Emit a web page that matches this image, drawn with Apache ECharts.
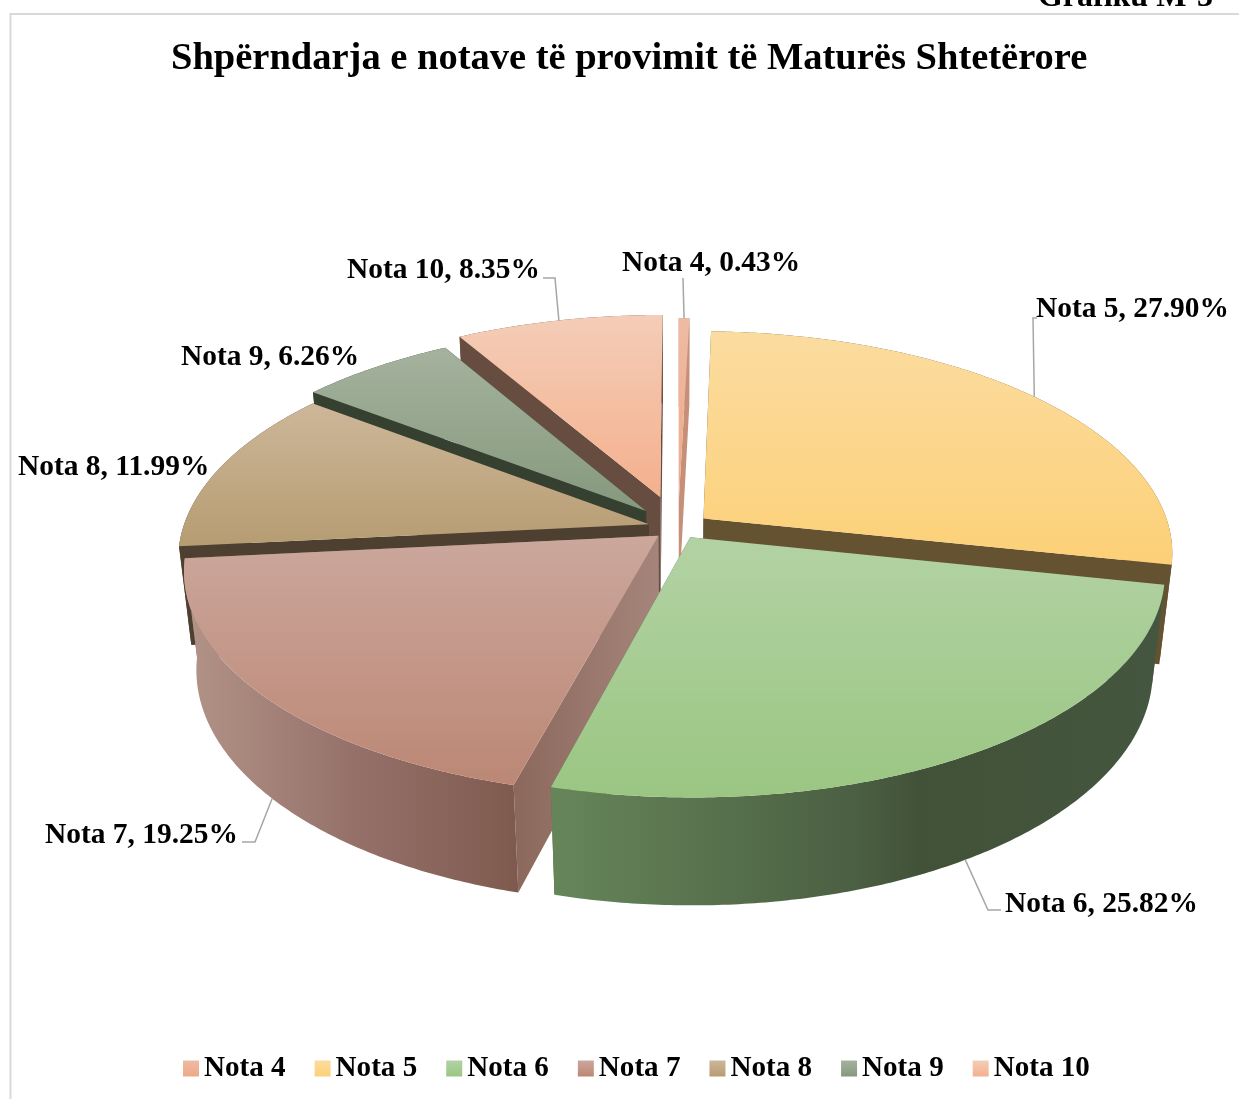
<!DOCTYPE html>
<html>
<head>
<meta charset="utf-8">
<title>Shpërndarja e notave</title>
<style>
  html, body { margin: 0; padding: 0; background: #fff; }
  #chart { width: 1239px; height: 1099px; }
</style>
</head>
<body>
<div id="chart"></div>
<script src="https://cdn.jsdelivr.net/npm/echarts@6/dist/echarts.min.js"></script>
<script>
const categories = ['Nota 4', 'Nota 5', 'Nota 6', 'Nota 7', 'Nota 8', 'Nota 9', 'Nota 10']
const shares = [0.43, 27.90, 25.82, 19.25, 11.99, 6.26, 8.35]

// styling per slice
const explode = [0.125, 0.07, 0.05, 0.055, 0.065, 0.105, 0.15]
const topColors = [
  ['#eebba3', '#eea888'], ['#fbdca0', '#fcd077'], ['#b3d2a4', '#9ac682'], ['#cba79c', '#bc8775'],
  ['#cdb799', '#b69c72'], ['#a5b29e', '#85997d'], ['#f4cdb8', '#f4b08d']
]
const cutColors = ['#c68f78', '#655230', '#4e6444', '#97756a', '#4e4030', '#364031', '#674c40']
const wallStops = [
  [[0, '#c68f78'], [1, '#c68f78']],
  [[0, '#655230'], [1, '#655230']],
  [[0, '#66865a'], [0.5, '#4b5f42'], [0.6, '#425238'], [1, '#455640']],
  [[0, '#b39488'], [0.5, '#95716a'], [1, '#7e5a4e']],
  [[0, '#4d4030'], [1, '#4d4030']],
  [[0, '#364031'], [1, '#364031']],
  [[0, '#674c40'], [1, '#674c40']]
]
// paint order, back of the pie first
const depth = [1, 4, 7, 6, 5, 3, 2]
// label position [left, middle] and the elbow of its leader line
const labelPos = [[622, 263], [1036, 309], [1005, 904], [45, 835], [18, 467], [181, 357], [347, 270]]
const leaders = [
  [[683, 278]],
  [[1033, 318], [1037, 318]],
  [[988, 910], [1001, 910]],
  [[255, 842], [242, 842]],
  null,
  null,
  [[555, 278], [543, 278]]
]

const FONT = '"Liberation Serif", "Times New Roman", serif'
const total = shares.reduce((a, b) => a + b, 0)

// camera
const cx = 678, cy = 528, radiusX = 466, radiusZ = 218, persp = 0.15, shrink = 0.025, thick = 100.5

function project(X, Z, H) {
  const s = 1 / (1 - persp * Z + shrink * H)
  return [cx + X * radiusX * s, cy + (Z * radiusZ + H * thick) * s]
}

// angles of a slice, clockwise from the top, in radians
function sliceAngles(i) {
  const before = shares.slice(0, i).reduce((a, b) => a + b, 0)
  const start = before / total * Math.PI * 2
  const end = (before + shares[i]) / total * Math.PI * 2
  return { start, end, mid: (start + end) / 2 }
}

function slicePoint(i, angle, r, H) {
  const mid = sliceAngles(i).mid
  const d = explode[i]
  return project(d * Math.sin(mid) + r * Math.sin(angle), -d * Math.cos(mid) - r * Math.cos(angle), H)
}

function arc(i, H) {
  const { start, end } = sliceAngles(i)
  const n = Math.max(2, Math.ceil((end - start) / 0.01))
  const pts = []
  for (let k = 0; k <= n; k++) pts.push(slicePoint(i, start + (end - start) * k / n, 1, H))
  return pts
}

function renderSlice(i) {
  return function () {
    const { start, end } = sliceAngles(i)
    const topArc = arc(i, 0)
    const bottomArc = arc(i, 1)
    const apexTop = slicePoint(i, start, 0, 0)
    const apexBottom = slicePoint(i, start, 0, 1)
    const cutFill = i === 3
      ? new echarts.graphic.LinearGradient(0, 0, 1, 0, [
          { offset: 0, color: '#8c685c' }, { offset: 1, color: '#a5857b' }
        ])
      : cutColors[i]
    const cut = angle => ({
      type: 'polygon',
      shape: { points: [apexTop, slicePoint(i, angle, 1, 0), slicePoint(i, angle, 1, 1), apexBottom] },
      style: { fill: cutFill }
    })
    return {
      type: 'group',
      children: [
        cut(end),
        cut(start),
        {
          type: 'polygon',
          shape: { points: topArc.concat(bottomArc.slice().reverse()) },
          style: {
            fill: new echarts.graphic.LinearGradient(0, 0, 1, 0,
              wallStops[i].map(s => ({ offset: s[0], color: s[1] })))
          }
        },
        {
          type: 'polygon',
          shape: { points: [apexTop].concat(topArc) },
          style: {
            fill: new echarts.graphic.LinearGradient(0, 0, 0, 1, [
              { offset: 0, color: topColors[i][0] },
              { offset: 1, color: topColors[i][1] }
            ])
          }
        }
      ]
    }
  }
}

function renderLabel(params, api) {
  const i = api.value(0)
  const children = [{
    type: 'text',
    style: {
      text: categories[i] + ', ' + shares[i].toFixed(2) + '%',
      x: labelPos[i][0], y: labelPos[i][1],
      fill: '#000', font: 'bold 29.45px ' + FONT,
      textAlign: 'left', textVerticalAlign: 'middle'
    }
  }]
  if (leaders[i]) {
    const mid = sliceAngles(i).mid
    const front = Math.cos(mid) < -0.3
    children.push({
      type: 'polyline',
      shape: { points: [slicePoint(i, mid, 1, front ? 1 : 0)].concat(leaders[i]) },
      style: { stroke: '#a6a6a6', lineWidth: 1.5, fill: null }
    })
  }
  return { type: 'group', children }
}

function legendFill(i) {
  return new echarts.graphic.LinearGradient(0, 0, 0, 1, [
    { offset: 0, color: topColors[i][0] },
    { offset: 1, color: topColors[i][1] }
  ])
}

const sliceSeries = categories.map((name, i) => ({
  name,
  type: 'custom',
  coordinateSystem: 'none',
  z: depth[i] + 2,
  silent: true,
  animation: false,
  itemStyle: { color: legendFill(i) },
  renderItem: renderSlice(i),
  data: [shares[i]]
}))

const labelSeries = {
  name: 'labels',
  type: 'custom',
  coordinateSystem: 'none',
  z: 20,
  silent: true,
  animation: false,
  renderItem: renderLabel,
  data: categories.map((c, i) => [i])
}

const chart = echarts.init(document.getElementById('chart'), null, { renderer: 'canvas' })

chart.setOption({
  backgroundColor: '#fff',
  animation: false,
  title: {
    text: 'Shpërndarja e notave të provimit të Maturës Shtetërore',
    left: 171,
    top: 40,
    padding: 0,
    textStyle: { fontFamily: FONT, fontWeight: 'bold', fontSize: 38.5, color: '#000' }
  },
  legend: {
    data: categories.map((name, i) => ({ name, itemStyle: { color: legendFill(i) } })),
    left: 183,
    top: 1054,
    padding: 0,
    icon: 'rect',
    itemWidth: 16,
    itemHeight: 16,
    itemGap: 29,
    selectedMode: false,
    textStyle: { fontFamily: FONT, fontWeight: 'bold', fontSize: 29.1, color: '#000' }
  },
  graphic: [
    {
      type: 'polyline',
      z: 1,
      shape: { points: [[10.5, 1099], [10.5, 14], [1239, 14]] },
      style: { stroke: '#d9d9d9', lineWidth: 2, fill: null }
    },
    {
      type: 'text',
      z: 1,
      style: {
        text: 'Grafiku M-3', x: 1213, y: -2,
        font: 'bold 32px ' + FONT, fill: '#000',
        textAlign: 'right', textVerticalAlign: 'middle'
      }
    }
  ],
  series: sliceSeries.concat(labelSeries)
})
</script>
</body>
</html>
